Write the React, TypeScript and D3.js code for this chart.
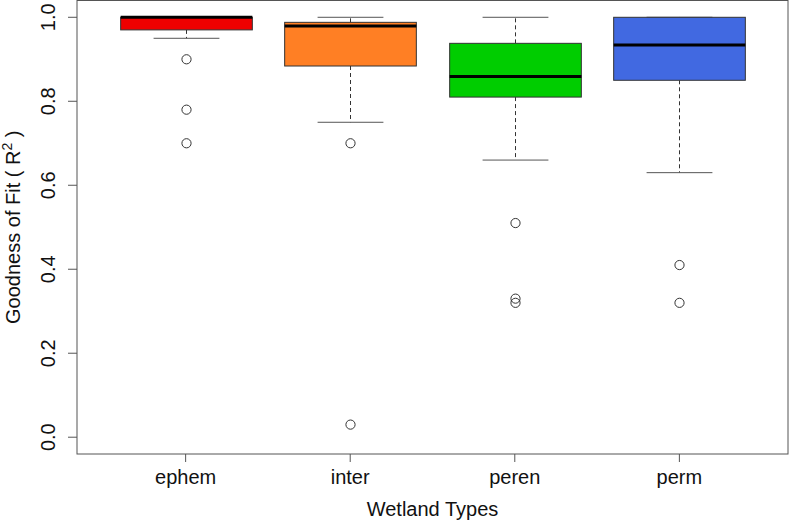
import React from 'react';
import * as d3 from 'd3';

const categories = ['ephem', 'inter', 'peren', 'perm'];
const whiskerLow = [0.95, 0.75, 0.66, 0.63];
const q1 = [0.97, 0.884, 0.81, 0.85];
const median = [1.0, 0.979, 0.859, 0.934];
const q3 = [1.0, 0.988, 0.938, 1.0];
const whiskerHigh = [1.0, 1.0, 1.0, 1.0];
const outliers = [
  [0.9, 0.78, 0.7],
  [0.7, 0.03],
  [0.51, 0.33, 0.32],
  [0.41, 0.32],
];
const fills = ['#EE0000', '#FF7F24', '#00CD00', '#4169E1'];
const yTicks = [0, 0.2, 0.4, 0.6, 0.8, 1.0];

const W = 790;
const H = 521;
const L = 77, R = 788, T = 0.5, B = 454;
const FONT = 'Liberation Sans, Arial, sans-serif';

export default function App() {
  const x = d3.scaleLinear().domain([0.34, 4.66]).range([L, R]);
  const y = d3.scaleLinear().domain([-0.04, 1.04]).range([B, T]);
  const unit = x(2) - x(1);
  const hw = 0.4 * unit;
  const sw = 0.2 * unit;
  const fs = 20;

  return (
    <svg width={W} height={H} style={{ position: 'absolute', left: 0, top: 0, background: '#fff' }}>
      <rect x={0} y={0} width={W} height={H} fill="#fff" />
      {categories.map((c, i) => {
        const cx = Math.round(x(i + 1)) + 0.5;
        return (
          <g key={c}>
            <line x1={cx} x2={cx} y1={y(q1[i])} y2={y(whiskerLow[i])} stroke="#333" strokeDasharray="4,3" />
            <line x1={cx} x2={cx} y1={y(q3[i])} y2={y(whiskerHigh[i])} stroke="#333" strokeDasharray="4,3" />
            <line x1={cx - sw} x2={cx + sw} y1={y(whiskerLow[i])} y2={y(whiskerLow[i])} stroke="#555" />
            <line x1={cx - sw} x2={cx + sw} y1={y(whiskerHigh[i])} y2={y(whiskerHigh[i])} stroke="#555" />
            <rect x={cx - hw} y={y(q3[i])} width={2 * hw} height={y(q1[i]) - y(q3[i])} fill={fills[i]} stroke="#333" />
            <line x1={cx - hw} x2={cx + hw} y1={y(median[i])} y2={y(median[i])} stroke="#000" strokeWidth={3} />
            {outliers[i].map((o, j) => (
              <circle key={j} cx={cx} cy={y(o)} r={4.6} fill="none" stroke="#333" />
            ))}
          </g>
        );
      })}
      <rect x={L} y={T} width={R - L} height={B - T} fill="none" stroke="#555" />
      {yTicks.map((t) => (
        <g key={t}>
          <line x1={L - 9} x2={L} y1={y(t)} y2={y(t)} stroke="#555" />
          <text
            transform={`translate(55,${y(t)}) rotate(-90)`}
            textAnchor="middle"
            fontFamily={FONT}
            fontSize={fs}
            fill="#111"
          >
            {d3.format('.1f')(t)}
          </text>
        </g>
      ))}
      {categories.map((c, i) => (
        <g key={c}>
          <line x1={x(i + 1)} x2={x(i + 1)} y1={B} y2={B + 8} stroke="#555" />
          <text x={x(i + 1)} y={484} textAnchor="middle" fontFamily={FONT} fontSize={fs} fill="#111">
            {c}
          </text>
        </g>
      ))}
      <text x={(L + R) / 2} y={516} textAnchor="middle" fontFamily={FONT} fontSize={fs} fill="#111">
        Wetland Types
      </text>
      <text
        transform={`translate(20,${(T + B) / 2}) rotate(-90)`}
        textAnchor="middle"
        fontFamily={FONT}
        fontSize={fs}
        fill="#111"
      >
        Goodness of Fit ( R<tspan dy={-8} fontSize={14}>2</tspan><tspan dy={8}> )</tspan>
      </text>
    </svg>
  );
}
